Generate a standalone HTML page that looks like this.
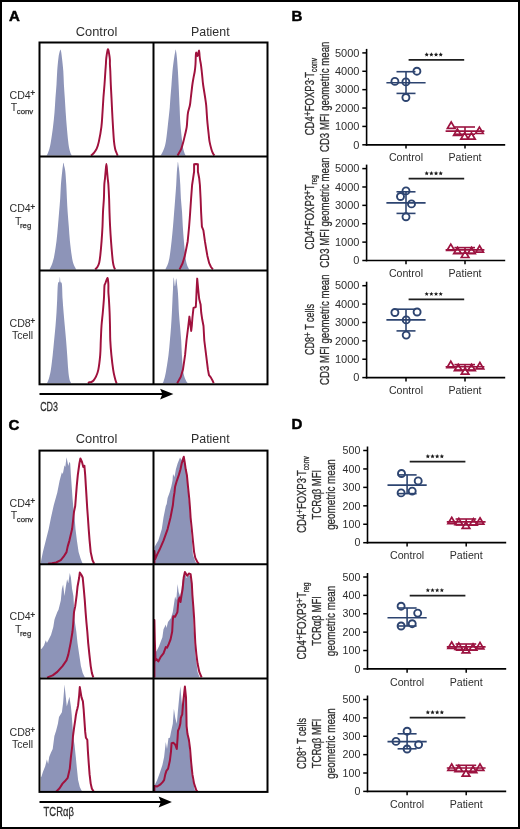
<!DOCTYPE html>
<html><head><meta charset="utf-8"><style>html,body{margin:0;padding:0;background:#fff;}svg{display:block;will-change:transform;}</style></head>
<body><svg width="520" height="829" viewBox="0 0 520 829" font-family="'Liberation Sans', sans-serif"><rect x="1" y="1" width="518" height="827" fill="none" stroke="#000" stroke-width="2"/>
<text x="9.0" y="21.2" font-size="15" text-anchor="start" fill="#000" font-weight="bold" stroke="#000" stroke-width="0.5">A</text>
<text x="291.6" y="21.4" font-size="15" text-anchor="start" fill="#000" font-weight="bold" stroke="#000" stroke-width="0.5">B</text>
<text x="8.6" y="429.6" font-size="15" text-anchor="start" fill="#000" font-weight="bold" stroke="#000" stroke-width="0.5">C</text>
<text x="291.6" y="429.4" font-size="15" text-anchor="start" fill="#000" font-weight="bold" stroke="#000" stroke-width="0.5">D</text>
<path d="M46.40,155.60 C46.40,155.60 46.20,155.92 46.40,155.60 C46.60,155.28 47.10,154.85 47.60,153.70 C48.10,152.55 48.85,150.75 49.40,148.70 C49.95,146.65 50.30,145.03 50.90,141.40 C51.50,137.77 52.40,131.72 53.00,126.90 C53.60,122.08 54.09,117.32 54.50,112.50 C54.91,107.68 55.12,102.67 55.45,98.00 C55.78,93.33 56.21,89.00 56.50,84.50 C56.79,80.00 56.87,75.50 57.20,71.00 C57.53,66.50 58.08,60.75 58.50,57.50 C58.92,54.25 59.38,52.80 59.70,51.50 C60.02,50.20 60.17,49.70 60.40,49.70 C60.63,49.70 60.85,50.20 61.10,51.50 C61.35,52.80 61.53,54.25 61.90,57.50 C62.27,60.75 62.97,66.50 63.30,71.00 C63.63,75.50 63.65,80.00 63.90,84.50 C64.15,89.00 64.50,93.33 64.80,98.00 C65.10,102.67 65.37,107.68 65.70,112.50 C66.03,117.32 66.38,122.08 66.80,126.90 C67.22,131.72 67.78,137.77 68.20,141.40 C68.62,145.03 68.87,146.65 69.30,148.70 C69.73,150.75 70.32,152.55 70.80,153.70 C71.28,154.85 71.97,155.28 72.20,155.60 C72.43,155.92 72.20,155.60 72.20,155.60 Z" fill="#8d94b8"/>
<path d="M90.90,155.60 C91.38,155.17 92.83,154.15 93.80,153.00 C94.77,151.85 95.85,150.63 96.70,148.70 C97.55,146.77 98.12,145.03 98.90,141.40 C99.68,137.77 100.80,131.72 101.40,126.90 C102.00,122.08 102.17,117.32 102.50,112.50 C102.83,107.68 103.07,102.67 103.40,98.00 C103.73,93.33 104.17,89.00 104.50,84.50 C104.83,80.00 105.17,74.37 105.40,71.00 C105.63,67.63 105.75,66.47 105.90,64.30 C106.05,62.13 105.97,60.50 106.30,58.00 C106.63,55.50 107.40,49.80 107.90,49.30 C108.40,48.80 108.97,53.22 109.30,55.00 C109.63,56.78 109.80,58.45 109.90,60.00 C110.00,61.55 109.83,62.47 109.90,64.30 C109.97,66.13 110.15,67.63 110.30,71.00 C110.45,74.37 110.60,80.00 110.80,84.50 C111.00,89.00 111.27,93.33 111.50,98.00 C111.73,102.67 111.95,107.68 112.20,112.50 C112.45,117.32 112.70,122.08 113.00,126.90 C113.30,131.72 113.65,137.77 114.00,141.40 C114.35,145.03 114.67,146.77 115.10,148.70 C115.53,150.63 116.17,151.85 116.60,153.00 C117.03,154.15 117.52,155.17 117.70,155.60" fill="none" stroke="#a0113d" stroke-width="1.95" stroke-linejoin="round"/>
<path d="M160.30,155.60 C160.30,155.60 160.12,155.83 160.30,155.60 C160.48,155.37 160.80,155.28 161.40,154.20 C162.00,153.12 163.13,151.35 163.90,149.10 C164.67,146.85 165.32,144.92 166.00,140.70 C166.68,136.48 167.37,129.43 168.00,123.80 C168.63,118.17 169.40,111.20 169.80,106.90 C170.20,102.60 170.12,101.73 170.40,98.00 C170.68,94.27 171.15,89.00 171.50,84.50 C171.85,80.00 172.05,75.50 172.50,71.00 C172.95,66.50 173.75,60.67 174.20,57.50 C174.65,54.33 174.95,53.35 175.20,52.00 C175.45,50.65 175.53,49.40 175.70,49.40 C175.87,49.40 176.00,50.65 176.20,52.00 C176.40,53.35 176.62,54.33 176.90,57.50 C177.18,60.67 177.62,66.50 177.90,71.00 C178.18,75.50 178.38,80.00 178.60,84.50 C178.82,89.00 179.03,94.27 179.20,98.00 C179.37,101.73 179.40,102.60 179.60,106.90 C179.80,111.20 179.98,118.17 180.40,123.80 C180.82,129.43 181.62,136.48 182.10,140.70 C182.58,144.92 182.82,146.85 183.30,149.10 C183.78,151.35 184.52,153.12 185.00,154.20 C185.48,155.28 186.00,155.37 186.20,155.60 C186.40,155.83 186.20,155.60 186.20,155.60 Z" fill="#8d94b8"/>
<path d="M177.50,155.60 C177.75,155.17 178.40,154.07 179.00,153.00 C179.60,151.93 180.38,151.05 181.10,149.20 C181.82,147.35 182.63,144.35 183.30,141.90 C183.97,139.45 184.53,136.95 185.10,134.50 C185.67,132.05 186.33,129.63 186.70,127.20 C187.07,124.77 187.08,122.33 187.30,119.90 C187.52,117.47 187.57,115.03 188.00,112.60 C188.43,110.17 189.43,107.73 189.90,105.30 C190.37,102.87 190.38,101.47 190.80,98.00 C191.22,94.53 191.95,87.87 192.40,84.50 C192.85,81.13 193.10,80.05 193.50,77.80 C193.90,75.55 194.47,73.25 194.80,71.00 C195.13,68.75 195.33,66.80 195.50,64.30 C195.67,61.80 195.68,57.98 195.80,56.00 C195.92,54.02 195.92,52.40 196.20,52.40 C196.48,52.40 197.03,56.33 197.50,56.00 C197.97,55.67 198.65,50.40 199.00,50.40 C199.35,50.40 199.42,54.40 199.60,56.00 C199.78,57.60 199.88,58.62 200.10,60.00 C200.32,61.38 200.63,62.47 200.90,64.30 C201.17,66.13 201.45,68.75 201.70,71.00 C201.95,73.25 202.17,75.55 202.40,77.80 C202.63,80.05 202.63,81.13 203.10,84.50 C203.57,87.87 204.68,94.53 205.20,98.00 C205.72,101.47 205.95,102.87 206.20,105.30 C206.45,107.73 206.53,110.17 206.70,112.60 C206.87,115.03 207.00,117.47 207.20,119.90 C207.40,122.33 207.65,124.77 207.90,127.20 C208.15,129.63 208.42,132.05 208.70,134.50 C208.98,136.95 209.15,139.45 209.60,141.90 C210.05,144.35 210.87,147.35 211.40,149.20 C211.93,151.05 212.30,151.93 212.80,153.00 C213.30,154.07 214.13,155.17 214.40,155.60" fill="none" stroke="#a0113d" stroke-width="1.95" stroke-linejoin="round"/>
<path d="M49.50,269.40 C49.50,269.40 49.30,269.80 49.50,269.40 C49.70,269.00 50.20,268.12 50.70,267.00 C51.20,265.88 51.90,264.63 52.50,262.70 C53.10,260.77 53.63,259.03 54.30,255.40 C54.97,251.77 55.90,245.72 56.50,240.90 C57.10,236.08 57.47,231.32 57.90,226.50 C58.33,221.68 58.72,216.67 59.10,212.00 C59.48,207.33 59.90,203.00 60.20,198.50 C60.50,194.00 60.57,189.50 60.90,185.00 C61.23,180.50 61.87,174.67 62.20,171.50 C62.53,168.33 62.70,167.47 62.90,166.00 C63.10,164.53 63.18,162.70 63.40,162.70 C63.62,162.70 63.88,164.53 64.20,166.00 C64.52,167.47 64.95,168.33 65.30,171.50 C65.65,174.67 66.03,180.50 66.30,185.00 C66.57,189.50 66.68,194.00 66.90,198.50 C67.12,203.00 67.33,207.33 67.65,212.00 C67.97,216.67 68.42,221.68 68.80,226.50 C69.17,231.32 69.42,236.08 69.90,240.90 C70.38,245.72 71.17,251.77 71.70,255.40 C72.23,259.03 72.57,260.77 73.10,262.70 C73.63,264.63 74.38,265.88 74.90,267.00 C75.42,268.12 75.98,269.00 76.20,269.40 C76.42,269.80 76.20,269.40 76.20,269.40 Z" fill="#8d94b8"/>
<path d="M95.20,269.40 C95.57,269.00 96.73,268.12 97.40,267.00 C98.07,265.88 98.72,264.63 99.20,262.70 C99.68,260.77 99.90,259.03 100.30,255.40 C100.70,251.77 101.23,245.72 101.60,240.90 C101.97,236.08 102.27,231.32 102.50,226.50 C102.73,221.68 102.77,216.67 103.00,212.00 C103.23,207.33 103.68,203.00 103.90,198.50 C104.12,194.00 104.12,188.37 104.30,185.00 C104.48,181.63 104.78,180.55 105.00,178.30 C105.22,176.05 105.37,173.88 105.60,171.50 C105.83,169.12 106.15,164.00 106.40,164.00 C106.65,164.00 106.88,169.12 107.10,171.50 C107.32,173.88 107.48,176.05 107.70,178.30 C107.92,180.55 108.17,181.63 108.40,185.00 C108.63,188.37 108.92,194.00 109.10,198.50 C109.28,203.00 109.33,207.33 109.50,212.00 C109.67,216.67 109.85,221.68 110.10,226.50 C110.35,231.32 110.65,236.08 111.00,240.90 C111.35,245.72 111.87,251.77 112.20,255.40 C112.53,259.03 112.70,260.77 113.00,262.70 C113.30,264.63 113.65,265.88 114.00,267.00 C114.35,268.12 114.92,269.00 115.10,269.40" fill="none" stroke="#a0113d" stroke-width="1.95" stroke-linejoin="round"/>
<path d="M165.30,269.40 C165.30,269.40 165.10,269.80 165.30,269.40 C165.50,269.00 166.00,268.12 166.50,267.00 C167.00,265.88 167.75,264.63 168.30,262.70 C168.85,260.77 169.25,259.03 169.80,255.40 C170.35,251.77 171.07,245.72 171.60,240.90 C172.13,236.08 172.57,231.32 173.00,226.50 C173.43,221.68 173.78,216.67 174.15,212.00 C174.52,207.33 174.86,203.00 175.20,198.50 C175.54,194.00 175.92,189.50 176.20,185.00 C176.48,180.50 176.68,174.75 176.90,171.50 C177.12,168.25 177.33,167.07 177.50,165.50 C177.67,163.93 177.73,162.10 177.90,162.10 C178.07,162.10 178.27,163.93 178.50,165.50 C178.73,167.07 179.00,168.25 179.30,171.50 C179.60,174.75 180.03,180.50 180.30,185.00 C180.57,189.50 180.61,194.00 180.90,198.50 C181.19,203.00 181.73,207.33 182.05,212.00 C182.37,216.67 182.49,221.68 182.80,226.50 C183.11,231.32 183.48,236.08 183.90,240.90 C184.32,245.72 184.88,251.77 185.30,255.40 C185.72,259.03 185.97,260.77 186.40,262.70 C186.83,264.63 187.43,265.88 187.90,267.00 C188.37,268.12 188.98,269.00 189.20,269.40 C189.42,269.80 189.20,269.40 189.20,269.40 Z" fill="#8d94b8"/>
<path d="M179.5,269.4 L180.5,267.5 L182.6,263.2 L184.8,255.9 L186.4,248.0 L187.7,241.2 L188.5,233.0 L189.1,226.6 L189.7,219.0 L190.2,212.0 L191.1,198.5 L192.1,185.0 L193.1,178.3 L194.1,171.5 L194.1,164.3 L196.0,164.0 L197.9,164.3 L197.9,171.5 L199.2,178.3 L199.9,185.0 L200.6,198.5 L201.1,212.0 L201.9,226.6 L203.4,230.3 L204.9,241.2 L206.2,249.0 L207.4,255.9 L209.2,263.2 L211.0,267.0 L212.9,269.4" fill="none" stroke="#a0113d" stroke-width="1.95" stroke-linejoin="round"/>
<path d="M47.00,383.20 C47.00,383.20 46.83,383.57 47.00,383.20 C47.17,382.83 47.60,382.08 48.00,381.00 C48.40,379.92 48.92,378.63 49.40,376.70 C49.88,374.77 50.35,373.03 50.90,369.40 C51.45,365.77 52.17,359.72 52.70,354.90 C53.23,350.08 53.63,345.32 54.10,340.50 C54.57,335.68 55.10,330.67 55.50,326.00 C55.90,321.33 56.22,317.00 56.50,312.50 C56.78,308.00 56.97,303.72 57.20,299.00 C57.43,294.28 57.55,287.03 57.90,284.20 C58.25,281.37 58.97,283.18 59.30,282.00 C59.63,280.82 59.70,277.10 59.90,277.10 C60.10,277.10 60.17,280.82 60.50,282.00 C60.83,283.18 61.55,281.37 61.90,284.20 C62.25,287.03 62.32,294.28 62.60,299.00 C62.88,303.72 63.23,308.00 63.60,312.50 C63.97,317.00 64.38,321.33 64.80,326.00 C65.22,330.67 65.70,335.68 66.10,340.50 C66.50,345.32 66.85,350.08 67.20,354.90 C67.55,359.72 67.90,365.77 68.20,369.40 C68.50,373.03 68.70,374.77 69.00,376.70 C69.30,378.63 69.63,379.92 70.00,381.00 C70.37,382.08 71.00,382.83 71.20,383.20 C71.40,383.57 71.20,383.20 71.20,383.20 Z" fill="#8d94b8"/>
<path d="M88.00,383.20 C88.25,383.03 88.95,382.40 89.50,382.20 C90.05,382.00 90.63,382.28 91.30,382.00 C91.97,381.72 92.77,381.30 93.50,380.50 C94.23,379.70 94.90,378.97 95.70,377.20 C96.50,375.43 97.55,373.57 98.30,369.90 C99.05,366.23 99.78,360.08 100.20,355.20 C100.62,350.32 100.58,345.47 100.80,340.60 C101.02,335.73 101.17,330.68 101.50,326.00 C101.83,321.32 102.40,317.00 102.80,312.50 C103.20,308.00 103.67,302.37 103.90,299.00 C104.13,295.63 104.10,294.55 104.20,292.30 C104.30,290.05 104.28,287.05 104.50,285.50 C104.72,283.95 105.02,284.27 105.50,283.00 C105.98,281.73 106.95,278.07 107.40,277.90 C107.85,277.73 108.03,280.73 108.20,282.00 C108.37,283.27 108.37,283.78 108.40,285.50 C108.43,287.22 108.32,290.05 108.40,292.30 C108.48,294.55 108.70,295.63 108.90,299.00 C109.10,302.37 109.42,308.00 109.60,312.50 C109.78,317.00 109.88,321.32 110.00,326.00 C110.12,330.68 110.07,335.73 110.30,340.60 C110.53,345.47 110.92,350.32 111.40,355.20 C111.88,360.08 112.65,366.23 113.20,369.90 C113.75,373.57 114.20,375.13 114.70,377.20 C115.20,379.27 115.82,381.30 116.20,382.30 C116.58,383.30 116.87,383.05 117.00,383.20" fill="none" stroke="#a0113d" stroke-width="1.95" stroke-linejoin="round"/>
<path d="M162.50,383.20 C162.50,383.20 162.35,383.45 162.50,383.20 C162.65,382.95 163.00,382.78 163.40,381.70 C163.80,380.62 164.42,378.75 164.90,376.70 C165.38,374.65 165.70,373.03 166.30,369.40 C166.90,365.77 167.90,359.72 168.50,354.90 C169.10,350.08 169.47,345.32 169.90,340.50 C170.33,335.68 170.77,330.67 171.10,326.00 C171.43,321.33 171.67,317.00 171.90,312.50 C172.13,308.00 172.32,302.93 172.50,299.00 C172.68,295.07 172.80,292.50 173.00,288.90 C173.20,285.30 173.37,277.85 173.70,277.40 C174.03,276.95 174.58,286.03 175.00,286.20 C175.42,286.37 175.77,277.95 176.20,278.40 C176.63,278.85 177.25,285.47 177.60,288.90 C177.95,292.33 178.08,295.07 178.30,299.00 C178.52,302.93 178.62,308.00 178.90,312.50 C179.18,317.00 179.62,321.33 180.00,326.00 C180.38,330.67 180.88,335.68 181.20,340.50 C181.52,345.32 181.60,350.08 181.90,354.90 C182.20,359.72 182.58,365.77 183.00,369.40 C183.42,373.03 183.80,374.65 184.40,376.70 C185.00,378.75 186.00,380.62 186.60,381.70 C187.20,382.78 187.77,382.95 188.00,383.20 C188.23,383.45 188.00,383.20 188.00,383.20 Z" fill="#8d94b8"/>
<path d="M177.2,383.2 L179.0,380.0 L180.8,376.7 L183.0,369.4 L185.1,354.9 L186.5,340.5 L188.3,326.0 L189.4,316.6 L190.5,325.0 L191.2,331.0 L191.8,326.0 L192.4,318.0 L193.5,307.8 L195.8,307.0 L196.2,300.0 L196.6,290.0 L197.2,278.6 L198.5,292.3 L199.2,299.0 L200.6,304.4 L201.2,312.5 L202.2,319.3 L203.5,326.0 L204.3,340.5 L206.1,354.9 L207.9,369.4 L209.0,375.2 L210.8,377.4 L212.5,380.5 L213.7,383.2" fill="none" stroke="#a0113d" stroke-width="1.95" stroke-linejoin="round"/>
<path d="M40.8,563.7 L40.8,563.0 L41.2,560.2 L42.9,552.1 L45.8,540.6 L48.7,529.1 L51.0,517.5 L53.8,505.0 L57.3,492.4 L59.6,480.8 L60.8,476.2 L61.9,472.2 L62.8,474.0 L64.5,465.3 L65.3,467.0 L66.5,457.2 L67.5,462.0 L68.3,466.0 L69.4,461.8 L70.2,463.5 L70.9,475.1 L71.7,486.6 L72.5,498.1 L73.4,508.0 L74.6,517.5 L75.5,529.1 L76.9,540.6 L78.6,552.1 L80.4,557.9 L82.1,562.5 L83.0,563.7 L83.0,563.7 Z" fill="#8d94b8"/>
<path d="M48.0,563.7 L52.0,563.2 L56.1,562.5 L60.8,560.2 L63.6,556.7 L66.5,552.1 L67.7,546.4 L69.4,540.6 L72.1,529.1 L73.4,517.5 L74.0,511.8 L75.2,506.0 L75.8,498.1 L76.7,486.6 L77.8,475.1 L79.4,463.5 L80.4,458.5 L82.0,462.0 L83.3,467.0 L84.4,465.8 L85.2,475.1 L85.9,486.6 L86.6,498.1 L87.2,508.0 L87.9,517.5 L88.7,529.1 L89.6,540.6 L90.7,552.1 L92.5,560.2 L94.2,563.7" fill="none" stroke="#a0113d" stroke-width="2.0" stroke-linejoin="round"/>
<path d="M154.5,563.7 L154.5,547.0 L156.5,543.5 L158.3,540.6 L160.0,535.0 L161.8,529.1 L163.5,517.5 L165.8,506.0 L166.7,503.9 L167.6,498.1 L169.6,492.4 L171.3,486.6 L172.5,480.8 L173.0,473.9 L174.5,477.0 L175.9,469.3 L177.6,463.5 L179.0,460.0 L180.0,457.5 L181.5,460.0 L183.0,457.0 L184.5,462.0 L185.5,468.0 L186.5,475.0 L187.5,486.6 L188.6,498.1 L189.6,509.7 L190.8,529.1 L191.9,540.6 L192.9,554.4 L195.3,561.4 L196.5,563.7 L196.5,563.7 Z" fill="#8d94b8"/>
<path d="M154.4,563.7 L154.4,551.0 L155.2,559.1 L157.2,554.4 L159.5,549.8 L163.5,540.6 L167.6,529.1 L170.5,517.5 L171.6,511.8 L172.9,505.0 L173.6,498.1 L174.5,492.4 L175.1,486.6 L176.8,480.8 L178.8,475.1 L180.5,469.3 L181.7,463.5 L183.8,456.8 L184.9,463.5 L185.7,469.3 L186.9,475.1 L188.0,486.6 L189.2,498.1 L190.0,508.0 L190.6,517.5 L191.8,529.1 L192.9,540.6 L194.1,552.1 L195.3,557.9 L197.6,562.5 L199.0,563.7" fill="none" stroke="#a0113d" stroke-width="2.0" stroke-linejoin="round"/>
<path d="M40.8,677.4 L40.8,649.0 L41.7,648.8 L44.0,645.4 L45.8,640.2 L46.9,643.1 L48.1,640.8 L51.0,635.0 L53.3,626.9 L54.4,620.0 L55.0,617.9 L57.3,612.1 L58.5,609.8 L60.8,600.6 L61.9,589.1 L63.1,584.5 L64.5,596.0 L65.6,587.9 L67.1,579.3 L68.3,583.3 L69.8,572.9 L70.9,577.5 L72.1,589.1 L73.4,596.0 L74.0,606.4 L74.6,620.0 L76.3,631.5 L77.5,643.1 L79.2,654.6 L80.9,666.1 L82.7,673.1 L84.4,676.5 L85.0,677.4 L85.0,677.4 Z" fill="#8d94b8"/>
<path d="M47.0,677.4 L48.1,677.1 L52.7,675.4 L57.3,671.9 L62.5,666.1 L66.5,660.4 L68.3,654.6 L70.6,643.1 L72.5,631.5 L73.2,624.0 L74.0,612.1 L75.2,606.4 L76.7,594.8 L77.5,586.8 L79.2,577.5 L79.8,572.5 L81.5,575.0 L82.7,577.5 L83.8,589.1 L84.8,600.6 L85.6,612.1 L86.4,622.0 L87.3,631.5 L88.2,643.1 L89.4,654.6 L90.7,666.1 L91.9,673.1 L93.3,677.4" fill="none" stroke="#a0113d" stroke-width="2.0" stroke-linejoin="round"/>
<path d="M154.5,677.4 L154.5,653.0 L156.6,651.1 L158.9,646.5 L162.4,637.3 L163.5,629.2 L165.8,624.6 L166.5,628.0 L168.0,622.0 L171.0,617.9 L172.8,612.1 L174.5,600.6 L175.1,596.6 L176.3,600.0 L177.6,583.9 L178.6,592.0 L180.0,596.0 L181.4,590.0 L182.6,580.0 L184.9,573.0 L186.5,578.0 L188.9,575.0 L190.3,576.0 L191.5,584.0 L192.2,595.0 L193.0,610.0 L193.5,625.0 L194.4,640.0 L195.5,655.0 L197.6,671.9 L199.3,676.5 L200.0,677.4 L200.0,677.4 Z" fill="#8d94b8"/>
<path d="M154.4,677.4 L154.4,620.0 L154.8,640.0 L155.5,660.4 L156.6,659.2 L158.3,661.5 L160.7,656.9 L163.5,653.4 L165.8,647.1 L167.0,647.7 L168.7,644.2 L170.5,639.6 L172.2,631.5 L172.8,620.0 L173.3,616.2 L175.1,616.7 L177.4,612.1 L178.5,600.0 L179.5,597.5 L180.5,602.0 L181.4,596.0 L182.6,589.1 L183.7,577.5 L184.9,572.0 L187.2,575.8 L188.9,573.5 L190.6,574.1 L191.8,583.3 L192.4,594.8 L193.3,606.4 L194.1,617.9 L194.4,625.0 L195.3,643.1 L196.4,654.6 L197.6,663.8 L199.3,671.9 L201.6,677.4" fill="none" stroke="#a0113d" stroke-width="2.0" stroke-linejoin="round"/>
<path d="M40.8,791.4 L40.8,777.0 L41.4,776.7 L42.9,772.1 L45.2,766.3 L46.9,759.4 L48.1,764.0 L49.2,757.1 L51.0,752.5 L52.7,749.0 L54.4,736.0 L56.1,730.7 L57.9,723.8 L59.0,716.9 L61.9,712.3 L63.1,703.1 L64.5,684.6 L66.8,706.5 L69.4,696.7 L70.9,706.5 L71.7,714.6 L72.5,726.1 L73.2,736.0 L74.6,745.5 L75.8,757.1 L76.9,768.6 L78.1,780.1 L79.8,787.1 L81.5,790.5 L82.5,791.4 L82.5,791.4 Z" fill="#8d94b8"/>
<path d="M56.0,791.4 L56.7,791.1 L59.6,788.2 L62.5,783.6 L64.8,781.3 L67.7,777.8 L69.8,768.6 L70.9,757.1 L72.3,745.5 L73.0,736.0 L74.0,728.4 L75.2,720.4 L75.8,715.8 L76.7,711.1 L77.3,709.0 L78.1,705.4 L79.2,695.0 L79.8,687.1 L81.5,697.3 L82.9,701.3 L83.6,708.8 L84.4,720.4 L85.2,731.9 L85.9,737.7 L87.3,739.8 L87.9,751.3 L88.7,762.8 L89.6,774.4 L90.7,783.6 L91.9,788.8 L93.6,791.4" fill="none" stroke="#a0113d" stroke-width="2.0" stroke-linejoin="round"/>
<path d="M154.9,791.4 L154.9,784.7 L157.2,780.1 L160.1,772.1 L162.4,765.1 L164.1,757.1 L165.8,742.1 L167.0,749.0 L168.5,738.0 L169.9,737.7 L171.0,731.9 L172.8,723.8 L173.9,708.8 L175.3,718.0 L176.8,723.8 L178.0,710.0 L180.3,686.3 L181.5,700.0 L182.5,710.0 L183.5,700.0 L184.9,687.0 L185.8,700.0 L186.4,714.6 L186.8,726.1 L187.5,734.0 L189.0,745.0 L190.5,762.0 L192.0,776.0 L194.0,786.0 L194.7,789.4 L195.5,791.4 L195.5,791.4 Z" fill="#8d94b8"/>
<path d="M154.4,791.4 L154.4,785.9 L157.2,786.5 L160.1,784.7 L162.4,782.4 L164.1,780.1 L165.3,774.4 L166.4,770.9 L168.1,768.6 L169.9,760.5 L171.0,751.3 L171.6,743.2 L173.3,742.7 L175.1,744.4 L176.8,749.0 L177.6,737.7 L178.0,730.7 L179.1,728.4 L180.3,723.8 L180.8,718.1 L181.5,716.0 L182.2,714.6 L183.1,703.1 L184.9,686.5 L186.0,697.3 L186.4,714.6 L186.6,726.1 L187.5,734.0 L188.9,739.8 L190.1,749.0 L191.2,762.8 L192.4,774.4 L194.1,783.6 L196.4,790.5 L197.5,791.4" fill="none" stroke="#a0113d" stroke-width="2.0" stroke-linejoin="round"/>
<rect x="39.5" y="42.5" width="228.0" height="341.8" fill="none" stroke="#000" stroke-width="2"/><line x1="153.5" y1="42.5" x2="153.5" y2="384.3" stroke="#000" stroke-width="2"/><line x1="39.5" y1="156.5" x2="267.5" y2="156.5" stroke="#000" stroke-width="2"/><line x1="39.5" y1="270.5" x2="267.5" y2="270.5" stroke="#000" stroke-width="2"/>
<rect x="39.5" y="450.6" width="228.0" height="341.29999999999995" fill="none" stroke="#000" stroke-width="2"/><line x1="153.5" y1="450.6" x2="153.5" y2="791.9" stroke="#000" stroke-width="2"/><line x1="39.5" y1="564.3" x2="267.5" y2="564.3" stroke="#000" stroke-width="2"/><line x1="39.5" y1="678.4" x2="267.5" y2="678.4" stroke="#000" stroke-width="2"/>
<text x="96.5" y="35.6" font-size="12.8" text-anchor="middle" fill="#2e2e2e" textLength="41.5" lengthAdjust="spacingAndGlyphs" >Control</text>
<text x="210.3" y="35.6" font-size="12.8" text-anchor="middle" fill="#2e2e2e" textLength="38.6" lengthAdjust="spacingAndGlyphs" >Patient</text>
<text x="96.5" y="443.0" font-size="12.8" text-anchor="middle" fill="#2e2e2e" textLength="41.5" lengthAdjust="spacingAndGlyphs" >Control</text>
<text x="210.3" y="443.0" font-size="12.8" text-anchor="middle" fill="#2e2e2e" textLength="38.6" lengthAdjust="spacingAndGlyphs" >Patient</text>
<text x="9.5" y="98.5" font-size="10.6" text-anchor="start" fill="#2e2e2e" >CD4</text>
<text x="30.3" y="95.9" font-size="8.5" text-anchor="start" fill="#2e2e2e" font-weight="bold" >+</text>
<text x="10.8" y="110.7" font-size="10.6" text-anchor="start" fill="#2e2e2e" >T</text>
<text x="16.8" y="113.9" font-size="7.8" text-anchor="start" fill="#2e2e2e" stroke="#2e2e2e" stroke-width="0.25">conv</text>
<text x="9.5" y="212.4" font-size="10.6" text-anchor="start" fill="#2e2e2e" >CD4</text>
<text x="30.3" y="209.8" font-size="8.5" text-anchor="start" fill="#2e2e2e" font-weight="bold" >+</text>
<text x="15.1" y="224.6" font-size="10.6" text-anchor="start" fill="#2e2e2e" >T</text>
<text x="20.0" y="227.79999999999998" font-size="7.8" text-anchor="start" fill="#2e2e2e" stroke="#2e2e2e" stroke-width="0.25">reg</text>
<text x="9.5" y="327.0" font-size="10.6" text-anchor="start" fill="#2e2e2e" >CD8</text>
<text x="30.3" y="324.4" font-size="8.5" text-anchor="start" fill="#2e2e2e" font-weight="bold" >+</text>
<text x="22.5" y="339.2" font-size="10.6" text-anchor="middle" fill="#2e2e2e" >Tcell</text>
<text x="9.5" y="506.7" font-size="10.6" text-anchor="start" fill="#2e2e2e" >CD4</text>
<text x="30.3" y="504.09999999999997" font-size="8.5" text-anchor="start" fill="#2e2e2e" font-weight="bold" >+</text>
<text x="10.8" y="518.9" font-size="10.6" text-anchor="start" fill="#2e2e2e" >T</text>
<text x="16.8" y="522.1" font-size="7.8" text-anchor="start" fill="#2e2e2e" stroke="#2e2e2e" stroke-width="0.25">conv</text>
<text x="9.5" y="620.4" font-size="10.6" text-anchor="start" fill="#2e2e2e" >CD4</text>
<text x="30.3" y="617.8" font-size="8.5" text-anchor="start" fill="#2e2e2e" font-weight="bold" >+</text>
<text x="15.1" y="632.6" font-size="10.6" text-anchor="start" fill="#2e2e2e" >T</text>
<text x="20.0" y="635.8000000000001" font-size="7.8" text-anchor="start" fill="#2e2e2e" stroke="#2e2e2e" stroke-width="0.25">reg</text>
<text x="9.5" y="735.5999999999999" font-size="10.6" text-anchor="start" fill="#2e2e2e" >CD8</text>
<text x="30.3" y="732.9999999999999" font-size="8.5" text-anchor="start" fill="#2e2e2e" font-weight="bold" >+</text>
<text x="22.5" y="747.8" font-size="10.6" text-anchor="middle" fill="#2e2e2e" >Tcell</text>
<line x1="39.5" y1="394.1" x2="163" y2="394.1" stroke="#000" stroke-width="2"/>
<path d="M173.4,394.1 L160.1,388.70000000000005 L162.4,394.1 L160.1,399.5 Z" fill="#000"/>
<line x1="39.5" y1="802.0" x2="163" y2="802.0" stroke="#000" stroke-width="2"/>
<path d="M171.9,802.0 L158.6,796.6 L160.9,802.0 L158.6,807.4 Z" fill="#000"/>
<text x="40.2" y="410.6" font-size="13" text-anchor="start" fill="#2e2e2e" textLength="17.8" lengthAdjust="spacingAndGlyphs" stroke="#2e2e2e" stroke-width="0.3">CD3</text>
<text x="43.6" y="816.4" font-size="13" text-anchor="start" fill="#2e2e2e" textLength="30.3" lengthAdjust="spacingAndGlyphs" stroke="#2e2e2e" stroke-width="0.3">TCR&#945;&#946;</text>
<line x1="366.6" y1="48.9" x2="366.6" y2="145.60000000000002" stroke="#000" stroke-width="1.6"/>
<line x1="365.8" y1="144.8" x2="505.2" y2="144.8" stroke="#000" stroke-width="1.7"/>
<line x1="362.3" y1="52.9" x2="366.6" y2="52.9" stroke="#000" stroke-width="1.5"/>
<text x="359.40000000000003" y="56.6" font-size="11" text-anchor="end" fill="#2e2e2e" >5000</text>
<line x1="362.3" y1="71.28" x2="366.6" y2="71.28" stroke="#000" stroke-width="1.5"/>
<text x="359.40000000000003" y="74.98" font-size="11" text-anchor="end" fill="#2e2e2e" >4000</text>
<line x1="362.3" y1="89.66" x2="366.6" y2="89.66" stroke="#000" stroke-width="1.5"/>
<text x="359.40000000000003" y="93.36" font-size="11" text-anchor="end" fill="#2e2e2e" >3000</text>
<line x1="362.3" y1="108.04" x2="366.6" y2="108.04" stroke="#000" stroke-width="1.5"/>
<text x="359.40000000000003" y="111.74000000000001" font-size="11" text-anchor="end" fill="#2e2e2e" >2000</text>
<line x1="362.3" y1="126.42000000000002" x2="366.6" y2="126.42000000000002" stroke="#000" stroke-width="1.5"/>
<text x="359.40000000000003" y="130.12" font-size="11" text-anchor="end" fill="#2e2e2e" >1000</text>
<line x1="362.3" y1="144.8" x2="366.6" y2="144.8" stroke="#000" stroke-width="1.5"/>
<text x="359.40000000000003" y="148.5" font-size="11" text-anchor="end" fill="#2e2e2e" >0</text>
<line x1="406.0" y1="144.8" x2="406.0" y2="148.60000000000002" stroke="#000" stroke-width="1.5"/>
<line x1="465.0" y1="144.8" x2="465.0" y2="148.60000000000002" stroke="#000" stroke-width="1.5"/>
<text x="406.0" y="161.4" font-size="10.6" text-anchor="middle" fill="#2e2e2e" >Control</text>
<text x="465.0" y="161.4" font-size="10.6" text-anchor="middle" fill="#2e2e2e" >Patient</text>
<line x1="408.6" y1="59.9" x2="464.2" y2="59.9" stroke="#1e1e1e" stroke-width="1.8"/>
<polygon points="426.70,52.30 427.32,53.75 428.89,53.89 427.70,54.92 428.05,56.46 426.70,55.65 425.35,56.46 425.70,54.92 424.51,53.89 426.08,53.75" fill="#1a1a1a"/>
<polygon points="431.37,52.30 431.99,53.75 433.56,53.89 432.37,54.92 432.72,56.46 431.37,55.65 430.02,56.46 430.37,54.92 429.18,53.89 430.75,53.75" fill="#1a1a1a"/>
<polygon points="436.04,52.30 436.66,53.75 438.23,53.89 437.04,54.92 437.39,56.46 436.04,55.65 434.69,56.46 435.04,54.92 433.85,53.89 435.42,53.75" fill="#1a1a1a"/>
<polygon points="440.71,52.30 441.33,53.75 442.90,53.89 441.71,54.92 442.06,56.46 440.71,55.65 439.36,56.46 439.71,54.92 438.52,53.89 440.09,53.75" fill="#1a1a1a"/>
<line x1="386.4" y1="82.8" x2="425.6" y2="82.8" stroke="#2d4470" stroke-width="1.6"/>
<line x1="406.0" y1="71.7" x2="406.0" y2="93.4" stroke="#2d4470" stroke-width="1.6"/>
<line x1="396.5" y1="71.7" x2="415.5" y2="71.7" stroke="#2d4470" stroke-width="1.6"/>
<line x1="396.5" y1="93.4" x2="415.5" y2="93.4" stroke="#2d4470" stroke-width="1.6"/>
<circle cx="394.9" cy="81.4" r="3.5" fill="none" stroke="#2d4470" stroke-width="1.9"/>
<circle cx="405.9" cy="81.9" r="3.5" fill="none" stroke="#2d4470" stroke-width="1.9"/>
<circle cx="416.9" cy="71.2" r="3.5" fill="none" stroke="#2d4470" stroke-width="1.9"/>
<circle cx="405.9" cy="97.5" r="3.5" fill="none" stroke="#2d4470" stroke-width="1.9"/>
<line x1="445.6" y1="131.1" x2="484.4" y2="131.1" stroke="#9c1340" stroke-width="1.6"/>
<line x1="465.0" y1="127.0" x2="465.0" y2="134.2" stroke="#9c1340" stroke-width="1.6"/>
<line x1="454.4" y1="127.0" x2="475.0" y2="127.0" stroke="#9c1340" stroke-width="1.6"/>
<line x1="454.4" y1="134.2" x2="475.0" y2="134.2" stroke="#9c1340" stroke-width="1.6"/>
<path d="M451.2,122.0 L455.0,128.4 L447.4,128.4 Z" fill="none" stroke="#9c1340" stroke-width="1.7" stroke-linejoin="miter"/>
<path d="M457.4,128.9 L461.2,135.3 L453.59999999999997,135.3 Z" fill="none" stroke="#9c1340" stroke-width="1.7" stroke-linejoin="miter"/>
<path d="M464.6,132.8 L468.40000000000003,139.20000000000002 L460.8,139.20000000000002 Z" fill="none" stroke="#9c1340" stroke-width="1.7" stroke-linejoin="miter"/>
<path d="M471.4,132.8 L475.2,139.20000000000002 L467.59999999999997,139.20000000000002 Z" fill="none" stroke="#9c1340" stroke-width="1.7" stroke-linejoin="miter"/>
<path d="M479.4,127.1 L483.2,133.5 L475.59999999999997,133.5 Z" fill="none" stroke="#9c1340" stroke-width="1.7" stroke-linejoin="miter"/>
<line x1="366.6" y1="164.6" x2="366.6" y2="261.3" stroke="#000" stroke-width="1.6"/>
<line x1="365.8" y1="260.5" x2="505.2" y2="260.5" stroke="#000" stroke-width="1.7"/>
<line x1="362.3" y1="168.6" x2="366.6" y2="168.6" stroke="#000" stroke-width="1.5"/>
<text x="359.40000000000003" y="172.29999999999998" font-size="11" text-anchor="end" fill="#2e2e2e" >5000</text>
<line x1="362.3" y1="186.98" x2="366.6" y2="186.98" stroke="#000" stroke-width="1.5"/>
<text x="359.40000000000003" y="190.67999999999998" font-size="11" text-anchor="end" fill="#2e2e2e" >4000</text>
<line x1="362.3" y1="205.36" x2="366.6" y2="205.36" stroke="#000" stroke-width="1.5"/>
<text x="359.40000000000003" y="209.06" font-size="11" text-anchor="end" fill="#2e2e2e" >3000</text>
<line x1="362.3" y1="223.74" x2="366.6" y2="223.74" stroke="#000" stroke-width="1.5"/>
<text x="359.40000000000003" y="227.44" font-size="11" text-anchor="end" fill="#2e2e2e" >2000</text>
<line x1="362.3" y1="242.12" x2="366.6" y2="242.12" stroke="#000" stroke-width="1.5"/>
<text x="359.40000000000003" y="245.82" font-size="11" text-anchor="end" fill="#2e2e2e" >1000</text>
<line x1="362.3" y1="260.5" x2="366.6" y2="260.5" stroke="#000" stroke-width="1.5"/>
<text x="359.40000000000003" y="264.2" font-size="11" text-anchor="end" fill="#2e2e2e" >0</text>
<line x1="406.0" y1="260.5" x2="406.0" y2="264.3" stroke="#000" stroke-width="1.5"/>
<line x1="465.0" y1="260.5" x2="465.0" y2="264.3" stroke="#000" stroke-width="1.5"/>
<text x="406.0" y="277.1" font-size="10.6" text-anchor="middle" fill="#2e2e2e" >Control</text>
<text x="465.0" y="277.1" font-size="10.6" text-anchor="middle" fill="#2e2e2e" >Patient</text>
<line x1="408.6" y1="178.7" x2="464.2" y2="178.7" stroke="#1e1e1e" stroke-width="1.8"/>
<polygon points="426.70,171.10 427.32,172.55 428.89,172.69 427.70,173.72 428.05,175.26 426.70,174.45 425.35,175.26 425.70,173.72 424.51,172.69 426.08,172.55" fill="#1a1a1a"/>
<polygon points="431.37,171.10 431.99,172.55 433.56,172.69 432.37,173.72 432.72,175.26 431.37,174.45 430.02,175.26 430.37,173.72 429.18,172.69 430.75,172.55" fill="#1a1a1a"/>
<polygon points="436.04,171.10 436.66,172.55 438.23,172.69 437.04,173.72 437.39,175.26 436.04,174.45 434.69,175.26 435.04,173.72 433.85,172.69 435.42,172.55" fill="#1a1a1a"/>
<polygon points="440.71,171.10 441.33,172.55 442.90,172.69 441.71,173.72 442.06,175.26 440.71,174.45 439.36,175.26 439.71,173.72 438.52,172.69 440.09,172.55" fill="#1a1a1a"/>
<line x1="386.4" y1="202.9" x2="425.6" y2="202.9" stroke="#2d4470" stroke-width="1.6"/>
<line x1="406.0" y1="191.8" x2="406.0" y2="213.4" stroke="#2d4470" stroke-width="1.6"/>
<line x1="396.5" y1="191.8" x2="415.5" y2="191.8" stroke="#2d4470" stroke-width="1.6"/>
<line x1="396.5" y1="213.4" x2="415.5" y2="213.4" stroke="#2d4470" stroke-width="1.6"/>
<circle cx="400.5" cy="196.5" r="3.5" fill="none" stroke="#2d4470" stroke-width="1.9"/>
<circle cx="406.0" cy="190.9" r="3.5" fill="none" stroke="#2d4470" stroke-width="1.9"/>
<circle cx="411.5" cy="203.9" r="3.5" fill="none" stroke="#2d4470" stroke-width="1.9"/>
<circle cx="406.0" cy="216.8" r="3.5" fill="none" stroke="#2d4470" stroke-width="1.9"/>
<line x1="445.6" y1="249.9" x2="484.4" y2="249.9" stroke="#9c1340" stroke-width="1.6"/>
<line x1="465.0" y1="247.6" x2="465.0" y2="253.2" stroke="#9c1340" stroke-width="1.6"/>
<line x1="454.4" y1="247.6" x2="475.0" y2="247.6" stroke="#9c1340" stroke-width="1.6"/>
<line x1="454.4" y1="253.2" x2="475.0" y2="253.2" stroke="#9c1340" stroke-width="1.6"/>
<path d="M450.8,244.1 L454.6,250.5 L447.0,250.5 Z" fill="none" stroke="#9c1340" stroke-width="1.7" stroke-linejoin="miter"/>
<path d="M457.5,247.3 L461.3,253.70000000000002 L453.7,253.70000000000002 Z" fill="none" stroke="#9c1340" stroke-width="1.7" stroke-linejoin="miter"/>
<path d="M465.1,251.1 L468.90000000000003,257.5 L461.3,257.5 Z" fill="none" stroke="#9c1340" stroke-width="1.7" stroke-linejoin="miter"/>
<path d="M471.5,247.3 L475.3,253.70000000000002 L467.7,253.70000000000002 Z" fill="none" stroke="#9c1340" stroke-width="1.7" stroke-linejoin="miter"/>
<path d="M479.6,245.7 L483.40000000000003,252.1 L475.8,252.1 Z" fill="none" stroke="#9c1340" stroke-width="1.7" stroke-linejoin="miter"/>
<line x1="366.6" y1="281.7" x2="366.6" y2="378.40000000000003" stroke="#000" stroke-width="1.6"/>
<line x1="365.8" y1="377.6" x2="505.2" y2="377.6" stroke="#000" stroke-width="1.7"/>
<line x1="362.3" y1="285.7" x2="366.6" y2="285.7" stroke="#000" stroke-width="1.5"/>
<text x="359.40000000000003" y="289.4" font-size="11" text-anchor="end" fill="#2e2e2e" >5000</text>
<line x1="362.3" y1="304.08" x2="366.6" y2="304.08" stroke="#000" stroke-width="1.5"/>
<text x="359.40000000000003" y="307.78" font-size="11" text-anchor="end" fill="#2e2e2e" >4000</text>
<line x1="362.3" y1="322.46" x2="366.6" y2="322.46" stroke="#000" stroke-width="1.5"/>
<text x="359.40000000000003" y="326.15999999999997" font-size="11" text-anchor="end" fill="#2e2e2e" >3000</text>
<line x1="362.3" y1="340.84000000000003" x2="366.6" y2="340.84000000000003" stroke="#000" stroke-width="1.5"/>
<text x="359.40000000000003" y="344.54" font-size="11" text-anchor="end" fill="#2e2e2e" >2000</text>
<line x1="362.3" y1="359.22" x2="366.6" y2="359.22" stroke="#000" stroke-width="1.5"/>
<text x="359.40000000000003" y="362.92" font-size="11" text-anchor="end" fill="#2e2e2e" >1000</text>
<line x1="362.3" y1="377.6" x2="366.6" y2="377.6" stroke="#000" stroke-width="1.5"/>
<text x="359.40000000000003" y="381.3" font-size="11" text-anchor="end" fill="#2e2e2e" >0</text>
<line x1="406.0" y1="377.6" x2="406.0" y2="381.40000000000003" stroke="#000" stroke-width="1.5"/>
<line x1="465.0" y1="377.6" x2="465.0" y2="381.40000000000003" stroke="#000" stroke-width="1.5"/>
<text x="406.0" y="394.20000000000005" font-size="10.6" text-anchor="middle" fill="#2e2e2e" >Control</text>
<text x="465.0" y="394.20000000000005" font-size="10.6" text-anchor="middle" fill="#2e2e2e" >Patient</text>
<line x1="408.6" y1="299.3" x2="464.2" y2="299.3" stroke="#1e1e1e" stroke-width="1.8"/>
<polygon points="426.70,291.70 427.32,293.15 428.89,293.29 427.70,294.32 428.05,295.86 426.70,295.05 425.35,295.86 425.70,294.32 424.51,293.29 426.08,293.15" fill="#1a1a1a"/>
<polygon points="431.37,291.70 431.99,293.15 433.56,293.29 432.37,294.32 432.72,295.86 431.37,295.05 430.02,295.86 430.37,294.32 429.18,293.29 430.75,293.15" fill="#1a1a1a"/>
<polygon points="436.04,291.70 436.66,293.15 438.23,293.29 437.04,294.32 437.39,295.86 436.04,295.05 434.69,295.86 435.04,294.32 433.85,293.29 435.42,293.15" fill="#1a1a1a"/>
<polygon points="440.71,291.70 441.33,293.15 442.90,293.29 441.71,294.32 442.06,295.86 440.71,295.05 439.36,295.86 439.71,294.32 438.52,293.29 440.09,293.15" fill="#1a1a1a"/>
<line x1="386.4" y1="319.9" x2="425.6" y2="319.9" stroke="#2d4470" stroke-width="1.6"/>
<line x1="406.0" y1="309.2" x2="406.0" y2="330.9" stroke="#2d4470" stroke-width="1.6"/>
<line x1="396.5" y1="309.2" x2="415.5" y2="309.2" stroke="#2d4470" stroke-width="1.6"/>
<line x1="396.5" y1="330.9" x2="415.5" y2="330.9" stroke="#2d4470" stroke-width="1.6"/>
<circle cx="394.9" cy="312.5" r="3.5" fill="none" stroke="#2d4470" stroke-width="1.9"/>
<circle cx="417.1" cy="312.0" r="3.5" fill="none" stroke="#2d4470" stroke-width="1.9"/>
<circle cx="406.2" cy="319.9" r="3.5" fill="none" stroke="#2d4470" stroke-width="1.9"/>
<circle cx="406.2" cy="335.1" r="3.5" fill="none" stroke="#2d4470" stroke-width="1.9"/>
<line x1="445.6" y1="366.8" x2="484.4" y2="366.8" stroke="#9c1340" stroke-width="1.6"/>
<line x1="465.0" y1="364.6" x2="465.0" y2="370.0" stroke="#9c1340" stroke-width="1.6"/>
<line x1="454.4" y1="364.6" x2="475.0" y2="364.6" stroke="#9c1340" stroke-width="1.6"/>
<line x1="454.4" y1="370.0" x2="475.0" y2="370.0" stroke="#9c1340" stroke-width="1.6"/>
<path d="M450.8,361.2 L454.6,367.59999999999997 L447.0,367.59999999999997 Z" fill="none" stroke="#9c1340" stroke-width="1.7" stroke-linejoin="miter"/>
<path d="M458.2,364.3 L462.0,370.7 L454.4,370.7 Z" fill="none" stroke="#9c1340" stroke-width="1.7" stroke-linejoin="miter"/>
<path d="M465.1,367.8 L468.90000000000003,374.2 L461.3,374.2 Z" fill="none" stroke="#9c1340" stroke-width="1.7" stroke-linejoin="miter"/>
<path d="M471.5,364.3 L475.3,370.7 L467.7,370.7 Z" fill="none" stroke="#9c1340" stroke-width="1.7" stroke-linejoin="miter"/>
<path d="M479.9,362.5 L483.7,368.9 L476.09999999999997,368.9 Z" fill="none" stroke="#9c1340" stroke-width="1.7" stroke-linejoin="miter"/>
<text transform="translate(314.0,96.65) rotate(-90)" x="0" y="0" font-size="13" text-anchor="middle" fill="#2e2e2e" stroke="#2e2e2e" stroke-width="0.3" textLength="77.4" lengthAdjust="spacingAndGlyphs">CD4<tspan font-size="11.5" dy="-3">+</tspan><tspan dy="3">FOXP3</tspan><tspan font-size="9" dy="-3.5">-</tspan><tspan dy="3.5">T</tspan><tspan font-size="9" dy="2.5">conv</tspan></text>
<text transform="translate(329.3,96.85000000000001) rotate(-90)" x="0" y="0" font-size="13" text-anchor="middle" fill="#2e2e2e" stroke="#2e2e2e" stroke-width="0.3" textLength="110.5" lengthAdjust="spacingAndGlyphs">CD3 MFI geometric mean</text>
<text transform="translate(314.0,212.35000000000002) rotate(-90)" x="0" y="0" font-size="13" text-anchor="middle" fill="#2e2e2e" stroke="#2e2e2e" stroke-width="0.3" textLength="74.5" lengthAdjust="spacingAndGlyphs">CD4<tspan font-size="11.5" dy="-3">+</tspan><tspan dy="3">FOXP3</tspan><tspan font-size="11.5" dy="-3">+</tspan><tspan dy="3">T</tspan><tspan font-size="9" dy="2.5">reg</tspan></text>
<text transform="translate(329.3,212.55) rotate(-90)" x="0" y="0" font-size="13" text-anchor="middle" fill="#2e2e2e" stroke="#2e2e2e" stroke-width="0.3" textLength="110.5" lengthAdjust="spacingAndGlyphs">CD3 MFI geometric mean</text>
<text transform="translate(314.0,329.45) rotate(-90)" x="0" y="0" font-size="13" text-anchor="middle" fill="#2e2e2e" stroke="#2e2e2e" stroke-width="0.3" textLength="51.0" lengthAdjust="spacingAndGlyphs">CD8<tspan font-size="11.5" dy="-3">+</tspan><tspan dy="3"> T cells</tspan></text>
<text transform="translate(329.3,329.65) rotate(-90)" x="0" y="0" font-size="13" text-anchor="middle" fill="#2e2e2e" stroke="#2e2e2e" stroke-width="0.3" textLength="110.5" lengthAdjust="spacingAndGlyphs">CD3 MFI geometric mean</text>
<line x1="367.5" y1="446.5" x2="367.5" y2="543.5" stroke="#000" stroke-width="1.6"/>
<line x1="366.7" y1="542.7" x2="506.2" y2="542.7" stroke="#000" stroke-width="1.7"/>
<line x1="363.2" y1="450.5" x2="367.5" y2="450.5" stroke="#000" stroke-width="1.5"/>
<text x="360.3" y="454.2" font-size="10.6" text-anchor="end" fill="#2e2e2e" >500</text>
<line x1="363.2" y1="468.94" x2="367.5" y2="468.94" stroke="#000" stroke-width="1.5"/>
<text x="360.3" y="472.64" font-size="10.6" text-anchor="end" fill="#2e2e2e" >400</text>
<line x1="363.2" y1="487.38" x2="367.5" y2="487.38" stroke="#000" stroke-width="1.5"/>
<text x="360.3" y="491.08" font-size="10.6" text-anchor="end" fill="#2e2e2e" >300</text>
<line x1="363.2" y1="505.82000000000005" x2="367.5" y2="505.82000000000005" stroke="#000" stroke-width="1.5"/>
<text x="360.3" y="509.52000000000004" font-size="10.6" text-anchor="end" fill="#2e2e2e" >200</text>
<line x1="363.2" y1="524.26" x2="367.5" y2="524.26" stroke="#000" stroke-width="1.5"/>
<text x="360.3" y="527.96" font-size="10.6" text-anchor="end" fill="#2e2e2e" >100</text>
<line x1="363.2" y1="542.7" x2="367.5" y2="542.7" stroke="#000" stroke-width="1.5"/>
<text x="360.3" y="546.4000000000001" font-size="10.6" text-anchor="end" fill="#2e2e2e" >0</text>
<line x1="407.1" y1="542.7" x2="407.1" y2="546.5" stroke="#000" stroke-width="1.5"/>
<line x1="466.2" y1="542.7" x2="466.2" y2="546.5" stroke="#000" stroke-width="1.5"/>
<text x="407.1" y="559.3000000000001" font-size="10.6" text-anchor="middle" fill="#2e2e2e" >Control</text>
<text x="466.2" y="559.3000000000001" font-size="10.6" text-anchor="middle" fill="#2e2e2e" >Patient</text>
<line x1="409.70000000000005" y1="461.7" x2="465.4" y2="461.7" stroke="#1e1e1e" stroke-width="1.8"/>
<polygon points="427.85,454.10 428.47,455.55 430.04,455.69 428.85,456.72 429.20,458.26 427.85,457.45 426.50,458.26 426.85,456.72 425.66,455.69 427.23,455.55" fill="#1a1a1a"/>
<polygon points="432.52,454.10 433.14,455.55 434.71,455.69 433.52,456.72 433.87,458.26 432.52,457.45 431.17,458.26 431.52,456.72 430.33,455.69 431.90,455.55" fill="#1a1a1a"/>
<polygon points="437.19,454.10 437.81,455.55 439.38,455.69 438.19,456.72 438.54,458.26 437.19,457.45 435.84,458.26 436.19,456.72 435.00,455.69 436.57,455.55" fill="#1a1a1a"/>
<polygon points="441.86,454.10 442.48,455.55 444.05,455.69 442.86,456.72 443.21,458.26 441.86,457.45 440.51,458.26 440.86,456.72 439.67,455.69 441.24,455.55" fill="#1a1a1a"/>
<line x1="387.5" y1="485.1" x2="426.70000000000005" y2="485.1" stroke="#2d4470" stroke-width="1.6"/>
<line x1="407.1" y1="474.9" x2="407.1" y2="493.6" stroke="#2d4470" stroke-width="1.6"/>
<line x1="397.6" y1="474.9" x2="416.6" y2="474.9" stroke="#2d4470" stroke-width="1.6"/>
<line x1="397.6" y1="493.6" x2="416.6" y2="493.6" stroke="#2d4470" stroke-width="1.6"/>
<circle cx="401.5" cy="473.5" r="3.5" fill="none" stroke="#2d4470" stroke-width="1.9"/>
<circle cx="418.2" cy="480.9" r="3.5" fill="none" stroke="#2d4470" stroke-width="1.9"/>
<circle cx="401.1" cy="492.9" r="3.5" fill="none" stroke="#2d4470" stroke-width="1.9"/>
<circle cx="412.2" cy="491.1" r="3.5" fill="none" stroke="#2d4470" stroke-width="1.9"/>
<line x1="446.8" y1="521.9" x2="485.59999999999997" y2="521.9" stroke="#9c1340" stroke-width="1.6"/>
<line x1="466.2" y1="519.0" x2="466.2" y2="525.0" stroke="#9c1340" stroke-width="1.6"/>
<line x1="455.59999999999997" y1="519.0" x2="476.2" y2="519.0" stroke="#9c1340" stroke-width="1.6"/>
<line x1="455.59999999999997" y1="525.0" x2="476.2" y2="525.0" stroke="#9c1340" stroke-width="1.6"/>
<path d="M451.7,517.3 L455.5,523.6999999999999 L447.9,523.6999999999999 Z" fill="none" stroke="#9c1340" stroke-width="1.7" stroke-linejoin="miter"/>
<path d="M458.8,518.3 L462.6,524.6999999999999 L455.0,524.6999999999999 Z" fill="none" stroke="#9c1340" stroke-width="1.7" stroke-linejoin="miter"/>
<path d="M466.0,521.9 L469.8,528.3 L462.2,528.3 Z" fill="none" stroke="#9c1340" stroke-width="1.7" stroke-linejoin="miter"/>
<path d="M473.4,518.7 L477.2,525.1 L469.59999999999997,525.1 Z" fill="none" stroke="#9c1340" stroke-width="1.7" stroke-linejoin="miter"/>
<path d="M480.0,517.8 L483.8,524.1999999999999 L476.2,524.1999999999999 Z" fill="none" stroke="#9c1340" stroke-width="1.7" stroke-linejoin="miter"/>
<line x1="367.5" y1="573.0" x2="367.5" y2="669.6999999999999" stroke="#000" stroke-width="1.6"/>
<line x1="366.7" y1="668.9" x2="506.2" y2="668.9" stroke="#000" stroke-width="1.7"/>
<line x1="363.2" y1="577.0" x2="367.5" y2="577.0" stroke="#000" stroke-width="1.5"/>
<text x="360.3" y="580.7" font-size="10.6" text-anchor="end" fill="#2e2e2e" >500</text>
<line x1="363.2" y1="595.38" x2="367.5" y2="595.38" stroke="#000" stroke-width="1.5"/>
<text x="360.3" y="599.08" font-size="10.6" text-anchor="end" fill="#2e2e2e" >400</text>
<line x1="363.2" y1="613.76" x2="367.5" y2="613.76" stroke="#000" stroke-width="1.5"/>
<text x="360.3" y="617.46" font-size="10.6" text-anchor="end" fill="#2e2e2e" >300</text>
<line x1="363.2" y1="632.14" x2="367.5" y2="632.14" stroke="#000" stroke-width="1.5"/>
<text x="360.3" y="635.84" font-size="10.6" text-anchor="end" fill="#2e2e2e" >200</text>
<line x1="363.2" y1="650.52" x2="367.5" y2="650.52" stroke="#000" stroke-width="1.5"/>
<text x="360.3" y="654.22" font-size="10.6" text-anchor="end" fill="#2e2e2e" >100</text>
<line x1="363.2" y1="668.9" x2="367.5" y2="668.9" stroke="#000" stroke-width="1.5"/>
<text x="360.3" y="672.6" font-size="10.6" text-anchor="end" fill="#2e2e2e" >0</text>
<line x1="407.1" y1="668.9" x2="407.1" y2="672.6999999999999" stroke="#000" stroke-width="1.5"/>
<line x1="466.2" y1="668.9" x2="466.2" y2="672.6999999999999" stroke="#000" stroke-width="1.5"/>
<text x="407.1" y="685.5" font-size="10.6" text-anchor="middle" fill="#2e2e2e" >Control</text>
<text x="466.2" y="685.5" font-size="10.6" text-anchor="middle" fill="#2e2e2e" >Patient</text>
<line x1="409.70000000000005" y1="595.6" x2="465.4" y2="595.6" stroke="#1e1e1e" stroke-width="1.8"/>
<polygon points="427.85,588.00 428.47,589.45 430.04,589.59 428.85,590.62 429.20,592.16 427.85,591.35 426.50,592.16 426.85,590.62 425.66,589.59 427.23,589.45" fill="#1a1a1a"/>
<polygon points="432.52,588.00 433.14,589.45 434.71,589.59 433.52,590.62 433.87,592.16 432.52,591.35 431.17,592.16 431.52,590.62 430.33,589.59 431.90,589.45" fill="#1a1a1a"/>
<polygon points="437.19,588.00 437.81,589.45 439.38,589.59 438.19,590.62 438.54,592.16 437.19,591.35 435.84,592.16 436.19,590.62 435.00,589.59 436.57,589.45" fill="#1a1a1a"/>
<polygon points="441.86,588.00 442.48,589.45 444.05,589.59 442.86,590.62 443.21,592.16 441.86,591.35 440.51,592.16 440.86,590.62 439.67,589.59 441.24,589.45" fill="#1a1a1a"/>
<line x1="387.5" y1="617.7" x2="426.70000000000005" y2="617.7" stroke="#2d4470" stroke-width="1.6"/>
<line x1="407.1" y1="608.0" x2="407.1" y2="626.0" stroke="#2d4470" stroke-width="1.6"/>
<line x1="397.6" y1="608.0" x2="416.6" y2="608.0" stroke="#2d4470" stroke-width="1.6"/>
<line x1="397.6" y1="626.0" x2="416.6" y2="626.0" stroke="#2d4470" stroke-width="1.6"/>
<circle cx="401.1" cy="606.2" r="3.5" fill="none" stroke="#2d4470" stroke-width="1.9"/>
<circle cx="417.7" cy="613.1" r="3.5" fill="none" stroke="#2d4470" stroke-width="1.9"/>
<circle cx="401.1" cy="626.0" r="3.5" fill="none" stroke="#2d4470" stroke-width="1.9"/>
<circle cx="412.2" cy="623.7" r="3.5" fill="none" stroke="#2d4470" stroke-width="1.9"/>
<line x1="446.8" y1="646.9" x2="485.59999999999997" y2="646.9" stroke="#9c1340" stroke-width="1.6"/>
<line x1="466.2" y1="644.0" x2="466.2" y2="650.2" stroke="#9c1340" stroke-width="1.6"/>
<line x1="455.59999999999997" y1="644.0" x2="476.2" y2="644.0" stroke="#9c1340" stroke-width="1.6"/>
<line x1="455.59999999999997" y1="650.2" x2="476.2" y2="650.2" stroke="#9c1340" stroke-width="1.6"/>
<path d="M451.7,642.0 L455.5,648.4 L447.9,648.4 Z" fill="none" stroke="#9c1340" stroke-width="1.7" stroke-linejoin="miter"/>
<path d="M458.8,642.9 L462.6,649.3 L455.0,649.3 Z" fill="none" stroke="#9c1340" stroke-width="1.7" stroke-linejoin="miter"/>
<path d="M466.0,646.5 L469.8,652.9 L462.2,652.9 Z" fill="none" stroke="#9c1340" stroke-width="1.7" stroke-linejoin="miter"/>
<path d="M473.0,643.8 L476.8,650.1999999999999 L469.2,650.1999999999999 Z" fill="none" stroke="#9c1340" stroke-width="1.7" stroke-linejoin="miter"/>
<path d="M480.0,642.4 L483.8,648.8 L476.2,648.8 Z" fill="none" stroke="#9c1340" stroke-width="1.7" stroke-linejoin="miter"/>
<line x1="367.5" y1="695.5" x2="367.5" y2="792.1999999999999" stroke="#000" stroke-width="1.6"/>
<line x1="366.7" y1="791.4" x2="506.2" y2="791.4" stroke="#000" stroke-width="1.7"/>
<line x1="363.2" y1="699.5" x2="367.5" y2="699.5" stroke="#000" stroke-width="1.5"/>
<text x="360.3" y="703.2" font-size="10.6" text-anchor="end" fill="#2e2e2e" >500</text>
<line x1="363.2" y1="717.88" x2="367.5" y2="717.88" stroke="#000" stroke-width="1.5"/>
<text x="360.3" y="721.58" font-size="10.6" text-anchor="end" fill="#2e2e2e" >400</text>
<line x1="363.2" y1="736.26" x2="367.5" y2="736.26" stroke="#000" stroke-width="1.5"/>
<text x="360.3" y="739.96" font-size="10.6" text-anchor="end" fill="#2e2e2e" >300</text>
<line x1="363.2" y1="754.64" x2="367.5" y2="754.64" stroke="#000" stroke-width="1.5"/>
<text x="360.3" y="758.34" font-size="10.6" text-anchor="end" fill="#2e2e2e" >200</text>
<line x1="363.2" y1="773.02" x2="367.5" y2="773.02" stroke="#000" stroke-width="1.5"/>
<text x="360.3" y="776.72" font-size="10.6" text-anchor="end" fill="#2e2e2e" >100</text>
<line x1="363.2" y1="791.4" x2="367.5" y2="791.4" stroke="#000" stroke-width="1.5"/>
<text x="360.3" y="795.1" font-size="10.6" text-anchor="end" fill="#2e2e2e" >0</text>
<line x1="407.1" y1="791.4" x2="407.1" y2="795.1999999999999" stroke="#000" stroke-width="1.5"/>
<line x1="466.2" y1="791.4" x2="466.2" y2="795.1999999999999" stroke="#000" stroke-width="1.5"/>
<text x="407.1" y="808.0" font-size="10.6" text-anchor="middle" fill="#2e2e2e" >Control</text>
<text x="466.2" y="808.0" font-size="10.6" text-anchor="middle" fill="#2e2e2e" >Patient</text>
<line x1="409.70000000000005" y1="717.7" x2="465.4" y2="717.7" stroke="#1e1e1e" stroke-width="1.8"/>
<polygon points="427.85,710.10 428.47,711.55 430.04,711.69 428.85,712.72 429.20,714.26 427.85,713.45 426.50,714.26 426.85,712.72 425.66,711.69 427.23,711.55" fill="#1a1a1a"/>
<polygon points="432.52,710.10 433.14,711.55 434.71,711.69 433.52,712.72 433.87,714.26 432.52,713.45 431.17,714.26 431.52,712.72 430.33,711.69 431.90,711.55" fill="#1a1a1a"/>
<polygon points="437.19,710.10 437.81,711.55 439.38,711.69 438.19,712.72 438.54,714.26 437.19,713.45 435.84,714.26 436.19,712.72 435.00,711.69 436.57,711.55" fill="#1a1a1a"/>
<polygon points="441.86,710.10 442.48,711.55 444.05,711.69 442.86,712.72 443.21,714.26 441.86,713.45 440.51,714.26 440.86,712.72 439.67,711.69 441.24,711.55" fill="#1a1a1a"/>
<line x1="387.5" y1="741.6" x2="426.70000000000005" y2="741.6" stroke="#2d4470" stroke-width="1.6"/>
<line x1="407.1" y1="733.8" x2="407.1" y2="748.8" stroke="#2d4470" stroke-width="1.6"/>
<line x1="397.6" y1="733.8" x2="416.6" y2="733.8" stroke="#2d4470" stroke-width="1.6"/>
<line x1="397.6" y1="748.8" x2="416.6" y2="748.8" stroke="#2d4470" stroke-width="1.6"/>
<circle cx="407.1" cy="731.2" r="3.5" fill="none" stroke="#2d4470" stroke-width="1.9"/>
<circle cx="396.0" cy="741.4" r="3.5" fill="none" stroke="#2d4470" stroke-width="1.9"/>
<circle cx="418.6" cy="744.6" r="3.5" fill="none" stroke="#2d4470" stroke-width="1.9"/>
<circle cx="407.1" cy="749.0" r="3.5" fill="none" stroke="#2d4470" stroke-width="1.9"/>
<line x1="446.8" y1="768.0" x2="485.59999999999997" y2="768.0" stroke="#9c1340" stroke-width="1.6"/>
<line x1="466.2" y1="765.3" x2="466.2" y2="771.2" stroke="#9c1340" stroke-width="1.6"/>
<line x1="455.59999999999997" y1="765.3" x2="476.2" y2="765.3" stroke="#9c1340" stroke-width="1.6"/>
<line x1="455.59999999999997" y1="771.2" x2="476.2" y2="771.2" stroke="#9c1340" stroke-width="1.6"/>
<path d="M451.7,764.0 L455.5,770.4 L447.9,770.4 Z" fill="none" stroke="#9c1340" stroke-width="1.7" stroke-linejoin="miter"/>
<path d="M458.8,765.3 L462.6,771.6999999999999 L455.0,771.6999999999999 Z" fill="none" stroke="#9c1340" stroke-width="1.7" stroke-linejoin="miter"/>
<path d="M466.0,769.8 L469.8,776.1999999999999 L462.2,776.1999999999999 Z" fill="none" stroke="#9c1340" stroke-width="1.7" stroke-linejoin="miter"/>
<path d="M473.0,766.3 L476.8,772.6999999999999 L469.2,772.6999999999999 Z" fill="none" stroke="#9c1340" stroke-width="1.7" stroke-linejoin="miter"/>
<path d="M480.0,764.0 L483.8,770.4 L476.2,770.4 Z" fill="none" stroke="#9c1340" stroke-width="1.7" stroke-linejoin="miter"/>
<text transform="translate(306.1,494.6) rotate(-90)" x="0" y="0" font-size="13" text-anchor="middle" fill="#2e2e2e" stroke="#2e2e2e" stroke-width="0.3" textLength="76.5" lengthAdjust="spacingAndGlyphs">CD4<tspan font-size="11.5" dy="-3">+</tspan><tspan dy="3">FOXP3</tspan><tspan font-size="9" dy="-3.5">-</tspan><tspan dy="3.5">T</tspan><tspan font-size="9" dy="2.5">conv</tspan></text>
<text transform="translate(320.6,494.6) rotate(-90)" x="0" y="0" font-size="13" text-anchor="middle" fill="#2e2e2e" stroke="#2e2e2e" stroke-width="0.3" textLength="49.6" lengthAdjust="spacingAndGlyphs">TCR&#945;&#946; MFI</text>
<text transform="translate(334.8,494.6) rotate(-90)" x="0" y="0" font-size="13" text-anchor="middle" fill="#2e2e2e" stroke="#2e2e2e" stroke-width="0.3" textLength="70.5" lengthAdjust="spacingAndGlyphs">geometric mean</text>
<text transform="translate(306.1,620.95) rotate(-90)" x="0" y="0" font-size="13" text-anchor="middle" fill="#2e2e2e" stroke="#2e2e2e" stroke-width="0.3" textLength="77" lengthAdjust="spacingAndGlyphs">CD4<tspan font-size="11.5" dy="-3">+</tspan><tspan dy="3">FOXP3</tspan><tspan font-size="11.5" dy="-3">+</tspan><tspan dy="3">T</tspan><tspan font-size="9" dy="2.5">reg</tspan></text>
<text transform="translate(320.6,620.95) rotate(-90)" x="0" y="0" font-size="13" text-anchor="middle" fill="#2e2e2e" stroke="#2e2e2e" stroke-width="0.3" textLength="49.6" lengthAdjust="spacingAndGlyphs">TCR&#945;&#946; MFI</text>
<text transform="translate(334.8,620.95) rotate(-90)" x="0" y="0" font-size="13" text-anchor="middle" fill="#2e2e2e" stroke="#2e2e2e" stroke-width="0.3" textLength="70.5" lengthAdjust="spacingAndGlyphs">geometric mean</text>
<text transform="translate(306.1,743.45) rotate(-90)" x="0" y="0" font-size="13" text-anchor="middle" fill="#2e2e2e" stroke="#2e2e2e" stroke-width="0.3" textLength="51.0" lengthAdjust="spacingAndGlyphs">CD8<tspan font-size="11.5" dy="-3">+</tspan><tspan dy="3"> T cells</tspan></text>
<text transform="translate(320.6,743.45) rotate(-90)" x="0" y="0" font-size="13" text-anchor="middle" fill="#2e2e2e" stroke="#2e2e2e" stroke-width="0.3" textLength="49.6" lengthAdjust="spacingAndGlyphs">TCR&#945;&#946; MFI</text>
<text transform="translate(334.8,743.45) rotate(-90)" x="0" y="0" font-size="13" text-anchor="middle" fill="#2e2e2e" stroke="#2e2e2e" stroke-width="0.3" textLength="70.5" lengthAdjust="spacingAndGlyphs">geometric mean</text></svg></body></html>
